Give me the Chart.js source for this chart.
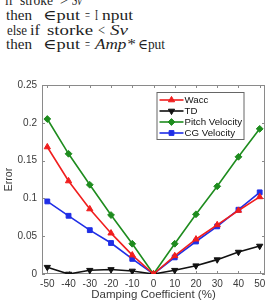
<!DOCTYPE html>
<html>
<head>
<meta charset="utf-8">
<script src="https://cdn.jsdelivr.net/npm/chart.js@4/dist/chart.umd.min.js"></script>
<style>
	body { margin: 0; background: #fff; }
	.wrap { position: relative; width: 270px; height: 303px; overflow: hidden; }
	.w {
		position: absolute; white-space: pre;
		font: 14px "Liberation Serif", "DejaVu Serif", serif;
		line-height: 14px; color: #1e1e1e;
		transform-origin: 0 0;
	}
	.w.it { font-style: italic; }
	canvas { position: absolute; left: 0; top: 0; }
</style>
</head>
<body>
<div class="wrap">
	<div id="note"></div>
	<canvas id="chart-1" width="270" height="303"></canvas>
</div>
<script>
const damping = [-50, -40, -30, -20, -10, 0, 10, 20, 30, 40, 50];
const wacc = [0.168, 0.123, 0.086, 0.054, 0.025, 0, 0.024, 0.046, 0.065, 0.084, 0.102];
const td = [0.009, 0.0, 0.005, 0.006, 0.004, 0, 0.005, 0.011, 0.019, 0.029, 0.037];
const pitchVelocity = [0.205, 0.159, 0.118, 0.078, 0.040, 0, 0.040, 0.079, 0.116, 0.155, 0.192];
const cgVelocity = [0.096, 0.077, 0.058, 0.041, 0.020, 0, 0.022, 0.043, 0.063, 0.085, 0.108];
const xTicks = [-50, -40, -30, -20, -10, 0, 10, 20, 30, 40, 50];
const yTicks = [0, 0.05, 0.1, 0.15, 0.2, 0.25];
const yTickLabels = ["0", "0.05", "0.1", "0.15", "0.2", "0.25"];

// pseudo code lines above the figure: [word, left, right, italic]
const noteLines = [
	[["if", 5, 13], ["stroke", 20, 53], [">", 60, 68], ["Sv", 72, 82, true]],
	[["then", 6, 32], ["∈put", 43, 80], ["=", 85, 90], ["I", 95, 98], ["nput", 102, 133]],
	[["else", 7, 27], ["if", 30, 40], ["storke", 47, 93], ["<", 98, 105], ["Sv", 110, 128, true]],
	[["then", 6, 32], ["∈put", 43, 80], ["=", 85, 90], ["Amp*", 95, 135, true], ["∈put", 138, 165]]
];
const noteBaselines = [6, 20.3, 35.3, 50];

const note = document.getElementById("note");
noteLines.forEach((line, i) => {
	for (const [word, left, right, italic] of line) {
		const s = document.createElement("span");
		s.className = italic ? "w it" : "w";
		s.textContent = word;
		s.style.left = left + "px";
		s.style.top = (noteBaselines[i] - 11.7) + "px";
		note.appendChild(s);
		// stretch each word to the width it has in the scan
		const k = (right - left) / s.getBoundingClientRect().width;
		s.style.transform = "scaleX(" + k.toFixed(3) + ")";
	}
});

const toPoints = arr => arr.map((v, i) => ({x: damping[i], y: v}));

function makeSet(label, arr, color, style, rotation, radius) {
	return {
		label: label,
		data: toPoints(arr),
		borderColor: color,
		backgroundColor: color,
		borderWidth: 1.6,
		pointStyle: style,
		pointRotation: rotation,
		pointRadius: radius,
		pointBorderWidth: 1,
		pointBackgroundColor: color,
		tension: 0
	};
}

const axisColor = "#8a8a8a";
const textColor = "#3a3a3a";

// box round the plot with inward ticks, matlab style
const framePlugin = {
	id: "frame",
	beforeDatasetsDraw(chart) {
		const {ctx, chartArea: a, scales} = chart;
		ctx.save();
		ctx.strokeStyle = axisColor;
		ctx.lineWidth = 1;
		ctx.strokeRect(a.left + 0.5, a.top + 0.5, a.right - a.left - 1, a.bottom - a.top - 1);
		const len = 3;
		ctx.beginPath();
		for (const v of xTicks) {
			const x = Math.round(scales.x.getPixelForValue(v)) + 0.5;
			ctx.moveTo(x, a.bottom); ctx.lineTo(x, a.bottom - len);
			ctx.moveTo(x, a.top); ctx.lineTo(x, a.top + len);
		}
		for (const v of yTicks) {
			const y = Math.round(scales.y.getPixelForValue(v)) + 0.5;
			ctx.moveTo(a.left, y); ctx.lineTo(a.left + len, y);
			ctx.moveTo(a.right, y); ctx.lineTo(a.right - len, y);
		}
		ctx.stroke();
		ctx.restore();
	}
};

// legend box inside the plot, top right
const boxLegendPlugin = {
	id: "boxLegend",
	afterDraw(chart) {
		const {ctx, chartArea: a} = chart;
		const left = a.right - 108.5, top = a.top + 7;
		const w = 87, h = 47, row = 11;
		ctx.save();
		ctx.fillStyle = "#fff";
		ctx.fillRect(left, top, w, h);
		ctx.strokeStyle = "#666";
		ctx.lineWidth = 1;
		ctx.strokeRect(left + 0.5, top + 0.5, w, h);
		ctx.font = '9.7px "Liberation Sans", Arial, sans-serif';
		ctx.textBaseline = "middle";
		chart.data.datasets.forEach((ds, i) => {
			const y = top + 8 + i * row;
			ctx.strokeStyle = ds.borderColor;
			ctx.lineWidth = 1.6;
			ctx.beginPath();
			ctx.moveTo(left + 3, y); ctx.lineTo(left + 27, y);
			ctx.stroke();
			ctx.fillStyle = ds.borderColor;
			ctx.lineWidth = 1;
			Chart.helpers.drawPoint(ctx, {pointStyle: ds.pointStyle, rotation: ds.pointRotation, radius: ds.pointRadius, borderWidth: 1}, left + 15, y);
			ctx.fillStyle = "#111";
			ctx.fillText(ds.label, left + 28, y + 0.5);
		});
		ctx.restore();
	}
};

new Chart("chart-1", {
	type: "line",
	data: {
		datasets: [
			makeSet("Wacc", wacc, "#f01e1e", "triangle", 0, 3.6),
			makeSet("TD", td, "#111111", "triangle", 180, 3.6),
			makeSet("Pitch Velocity", pitchVelocity, "#1e8c1e", "rectRot", 0, 3.4),
			makeSet("CG Velocity", cgVelocity, "#1f2ee6", "rect", 0, 3.4)
		]
	},
	options: {
		responsive: false,
		animation: false,
		layout: {padding: {top: 85, right: 3.5, left: 0, bottom: 0}},
		plugins: {legend: {display: false}, tooltip: {enabled: false}},
		scales: {
			x: {
				type: "linear",
				min: -52.5,
				max: 52.5,
				afterBuildTicks: s => { s.ticks = xTicks.map(v => ({value: v})); },
				afterFit: s => { s.height = 29; },
				grid: {display: false, drawTicks: false},
				border: {display: false},
				ticks: {
					padding: 4,
					maxRotation: 0,
					color: textColor,
					font: {family: '"Liberation Sans", Arial, sans-serif', size: 10}
				},
				title: {
					display: true,
					text: "Damping Coefficient (%)",
					color: textColor,
					padding: {top: 0, bottom: 1},
					font: {family: '"Liberation Sans", Arial, sans-serif', size: 11.5}
				}
			},
			y: {
				min: 0,
				max: 0.25,
				afterBuildTicks: s => { s.ticks = yTicks.map(v => ({value: v})); },
				afterFit: s => { s.width = 42; },
				grid: {display: false, drawTicks: false},
				border: {display: false},
				ticks: {
					padding: 5,
					color: textColor,
					font: {family: '"Liberation Sans", Arial, sans-serif', size: 10},
					callback: (v, i) => yTickLabels[i]
				},
				title: {
					display: true,
					text: "Error",
					color: textColor,
					padding: {top: 3, bottom: 0},
					font: {family: '"Liberation Sans", Arial, sans-serif', size: 10.5}
				}
			}
		}
	},
	plugins: [framePlugin, boxLegendPlugin]
});
</script>
</body>
</html>
